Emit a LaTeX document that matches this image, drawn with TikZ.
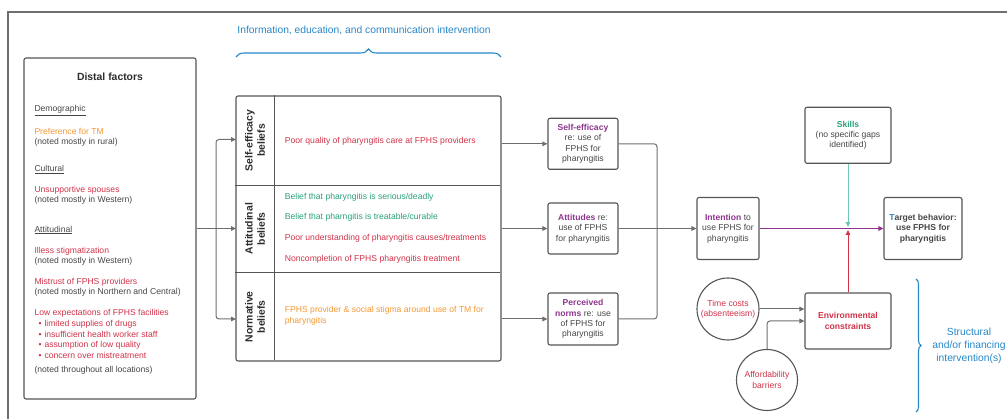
\documentclass[tikz,border=0pt]{standalone}
\usepackage{fontspec}
\setmainfont{Liberation Sans}
\usetikzlibrary{arrows.meta,positioning,decorations.pathreplacing}

\definecolor{ieRed}{RGB}{208,50,72}
\definecolor{ieOrange}{RGB}{243,152,52}
\definecolor{ieGreen}{RGB}{40,160,124}
\definecolor{iePurple}{RGB}{142,52,142}
\definecolor{ieBlue}{RGB}{38,135,200}
\definecolor{ieTeal}{RGB}{110,200,180}
\definecolor{ieText}{RGB}{70,70,70}
\definecolor{ieDark}{RGB}{45,45,45}
\definecolor{ieBox}{RGB}{85,85,85}
\definecolor{ieLine}{RGB}{110,110,110}

\newcommand{\dbullet}{\hspace*{4pt}\textbullet\hspace{3pt}}

\begin{document}
\begin{tikzpicture}[x=1pt,y=-1pt,
  font=\fontsize{8.6}{10.4}\selectfont,
  box/.style={draw=ieBox,line width=1.1pt,rounded corners=2pt,align=center,inner sep=1pt,text=ieText},
  circ/.style={circle,draw=ieBox,line width=1.1pt,align=center,inner sep=0pt,text=ieRed},
  txt/.style={inner sep=0pt,anchor=west},
  lbl/.style={font=\bfseries\fontsize{10.4}{12.4}\selectfont,text=ieDark,align=center},
  conn/.style={draw=ieLine,line width=1pt,rounded corners=3pt,-{Triangle[length=5pt,width=4.5pt]}},
  brc/.style={decorate,draw=ieBlue,line width=1.1pt},
  blue/.style={text=ieBlue,font=\fontsize{10.3}{13}\selectfont,align=center}]
\useasboundingbox (0,0) rectangle (1007,419);

% frame
\draw[ieLine,line width=2pt] (8,419) -- (8,12) -- (1007,12);

% distal factors
\node[box,minimum width=172pt,minimum height=341pt] (distal) at (110,228.5) {};
\node[lbl] (distTitle) at (110,77) {Distal factors};
\foreach \yy/\cc/\dtext [count=\i] in {
  110.7/ieText/{\underline{Demographic}},
  131.7/ieOrange/{Preference for TM},
  142.3/ieText/{(noted mostly in rural)},
  169.3/ieText/{\underline{Cultural}},
  190.3/ieRed/{Unsupportive spouses},
  200.7/ieText/{(noted mostly in Western)},
  230.0/ieText/{\underline{Attitudinal}},
  251.0/ieRed/{Illess stigmatization},
  261.7/ieText/{(noted mostly in Western)},
  282.3/ieRed/{Mistrust of FPHS providers},
  292.7/ieText/{(noted mostly in Northern and Central)},
  313.3/ieRed/{Low expectations of FPHS facilities},
  324.0/ieRed/{\dbullet limited supplies of drugs},
  334.7/ieRed/{\dbullet insufficient health worker staff},
  345.0/ieRed/{\dbullet assumption of low quality},
  355.7/ieRed/{\dbullet concern over mistreatment},
  370.7/ieText/{(noted throughout all locations)}}
  \node[txt,text=\cc] (dist\i) at (34.3,\yy) {\dtext};

% beliefs table
\node[box,minimum width=265pt,minimum height=265pt] (beliefs) at (368.5,228.5) {};
\draw[ieBox,line width=1.1pt] (beliefs.north west) ++(39,0) -- ++(0,265);
\draw[ieBox,line width=1.1pt] (beliefs.north west) ++(0,90) -- ++(265,0);
\draw[ieBox,line width=1.1pt] (beliefs.north west) ++(0,177) -- ++(265,0);
\node[lbl,rotate=90] (selfLbl) at (255,140.5) {Self-efficacy\\beliefs};
\node[lbl,rotate=90] (attLbl) at (255,228.7) {Attitudinal\\beliefs};
\node[lbl,rotate=90] (normLbl) at (255,316.7) {Normative\\beliefs};
\foreach \yy/\cc/\btext [count=\i] in {
  141.0/ieRed/{Poor quality of pharyngitis care at FPHS providers},
  197.0/ieGreen/{Belief that pharyngitis is serious/deadly},
  217.7/ieGreen/{Belief that pharngitis is treatable/curable},
  238.7/ieRed/{Poor understanding of pharyngitis causes/treatments},
  259.3/ieRed/{Noncompletion of FPHS pharyngitis treatment}}
  \node[txt,text=\cc] (row\i) at (284.7,\yy) {\btext};
\node[txt,text=ieOrange,align=left] (row6) at (284.7,315.7)
  {FPHS provider \& social stigma around use of TM for\\pharyngitis};

\node[blue] (iecLbl) at (364,30.7) {Information, education, and communication intervention};
\draw[brc,decoration={brace,amplitude=8pt}] (236,57) -- (501,57);

% distal -> beliefs
\coordinate (split) at (216,228.5);
\coordinate (selfIn) at (236,139.5);
\coordinate (attIn) at (236,228.5);
\coordinate (normIn) at (236,319);
\draw[conn] (distal.east) -- (attIn);
\draw[conn] (split) |- (selfIn);
\draw[conn] (split) |- (normIn);

% constructs
\node[box,minimum width=70pt,minimum height=51pt] (selfEff) at (583,143.8)
  {\textcolor{iePurple}{\textbf{Self-efficacy}}\\re: use of\\FPHS for\\pharyngitis};
\node[box,minimum width=70pt,minimum height=51pt] (attit) at (583,228.5)
  {\textcolor{iePurple}{\textbf{Attitudes}} re:\\use of FPHS\\for pharyngitis};
\node[box,minimum width=70pt,minimum height=52pt] (norms) at (583,319)
  {\textcolor{iePurple}{\textbf{Perceived}}\\\textcolor{iePurple}{\textbf{norms}} re: use\\of FPHS for\\pharyngitis};
\draw[conn] (beliefs.east |- selfEff) -- (selfEff);
\draw[conn] (beliefs.east |- attit) -- (attit);
\draw[conn] (beliefs.east |- norms) -- (norms);

\node[box,minimum width=62pt,minimum height=62pt] (intent) at (728,228.5)
  {\textcolor{iePurple}{\textbf{Intention}} to\\use FPHS for\\pharyngitis};
\coordinate (merge) at (657,228.5);
\draw[ieLine,line width=1pt,rounded corners=3pt] (selfEff.east) -| (merge);
\draw[ieLine,line width=1pt,rounded corners=3pt] (norms.east) -| (merge);
\draw[conn,line width=1.6pt] (attit) -- (intent);

\node[box,minimum width=78pt,minimum height=62pt,font=\bfseries\fontsize{8.6}{10.4}\selectfont] (target) at (923,228.5)
  {\textcolor{ieBlue}{T}arget behavior:\\use FPHS for\\pharyngitis};
\node[box,minimum width=86pt,minimum height=56pt] (skills) at (848,135.3)
  {\textcolor{ieGreen}{\textbf{Skills}}\\(no specific gaps\\identified)};
\node[box,minimum width=86pt,minimum height=56pt,text=ieRed,font=\bfseries\fontsize{8.6}{10.4}\selectfont] (env) at (848,321)
  {Environmental\\constraints};
\node[circ,minimum size=62pt] (time) at (728,309) {Time costs\\(absenteeism)};
\node[circ,minimum size=61pt] (afford) at (767,380) {Affordability\\barriers};

\coordinate (meet) at (848,228.5);
\draw[conn,draw=iePurple,-{Triangle[length=5pt,width=4.5pt,fill=iePurple]}] (intent) -- (target);
\draw[conn,draw=ieTeal,shorten >=1.5pt] (skills) -- (meet);
\draw[conn,draw=ieRed,shorten >=1.5pt] (env) -- (meet);
\draw[conn] (time) -- (time -| env.west);
\draw[conn] (afford.north) |- (env.west);

\draw[brc,decoration={brace,amplitude=5pt}] (916,279) -- (916,412);
\node[blue] (sfLbl) at (969,345.7) {Structural\\and/or financing\\intervention(s)};
\end{tikzpicture}
\end{document}
